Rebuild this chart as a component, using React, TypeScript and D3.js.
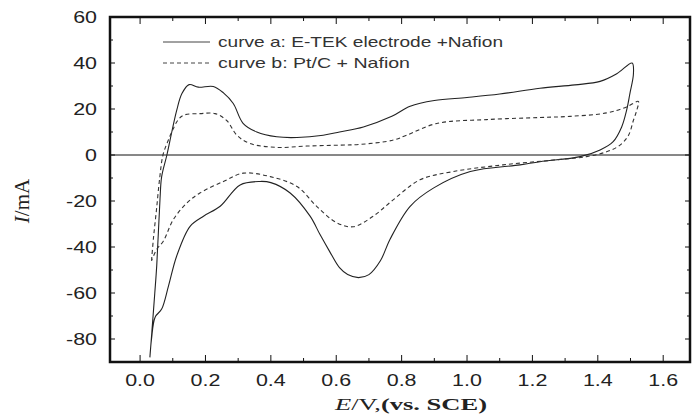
import React from 'react';
import * as d3 from 'd3';

// curve a: E-TEK electrode + Nafion (solid), one closed CV loop
const aPotential = [
  0.030, 0.036, 0.045, 0.051, 0.061, 0.066, 0.082, 0.097, 0.112, 0.128, 0.150,
  0.178, 0.224, 0.255, 0.285, 0.315, 0.357, 0.418, 0.480, 0.560, 0.610, 0.683,
  0.770, 0.826, 0.900, 1.000, 1.100, 1.223, 1.330, 1.407, 1.458, 1.505, 1.509,
  1.498, 1.488, 1.473, 1.447, 1.407, 1.346, 1.223, 1.162, 1.010, 0.897, 0.826,
  0.765, 0.735, 0.700, 0.668, 0.635, 0.610, 0.580, 0.550, 0.520, 0.459, 0.400,
  0.367, 0.306, 0.245, 0.194, 0.153, 0.112, 0.087, 0.066, 0.046, 0.035, 0.030,
];
const aCurrent = [
  -88, -77, -60, -48, -19, -9.4, 0, 10, 19.4, 26.7, 30.6, 29.5, 29.8, 27, 22.4,
  13.8, 10, 7.9, 7.6, 8.6, 10, 12.2, 16.8, 21.2, 23.7, 25, 26.5, 29, 30.5, 32,
  35.3, 40, 35.3, 26.6, 19.4, 12.2, 5.8, 2.2, -0.7, -2.9, -4.3, -7.2, -14.4,
  -22.3, -36.5, -46, -52, -53.3, -52, -49, -42, -34.5, -26.6, -16.5, -12, -11.5,
  -13, -22.3, -26.6, -31, -43.9, -56.9, -67, -70.5, -80, -88,
];

// curve b: Pt/C + Nafion (dashed)
const bPotential = [
  0.035, 0.041, 0.050, 0.060, 0.070, 0.085, 0.097, 0.115, 0.133, 0.183, 0.229,
  0.265, 0.296, 0.336, 0.418, 0.510, 0.612, 0.673, 0.775, 0.815, 0.907, 1.060,
  1.223, 1.315, 1.427, 1.488, 1.524, 1.519, 1.509, 1.494, 1.468, 1.427, 1.366,
  1.264, 1.110, 0.958, 0.856, 0.775, 0.713, 0.652, 0.602, 0.540, 0.480, 0.398,
  0.316, 0.255, 0.183, 0.143, 0.102, 0.071, 0.051, 0.035,
];
const bCurrent = [
  -46, -36, -24, -10, 0, 6, 10, 15, 17.3, 18, 18, 15, 8.6, 5, 3.3, 3.9, 4.3, 4.6,
  6.5, 8.6, 13.7, 15.4, 16.3, 16.8, 18.3, 20.9, 23.3, 19.4, 15.1, 8.6, 4.3, 1.4,
  -0.7, -2.2, -4.3, -7.2, -10.8, -19.4, -26.6, -31.2, -29.5, -22.3, -13.7, -9.4,
  -7.9, -11.5, -16.5, -20.9, -28, -37.5, -41, -46,
];

const xTicks = [0, 0.2, 0.4, 0.6, 0.8, 1.0, 1.2, 1.4, 1.6];
const yTicks = [-80, -60, -40, -20, 0, 20, 40, 60];
const legendLabels = ['curve a: E-TEK electrode +Nafion', 'curve b: Pt/C + Nafion'];

function App() {
  const width = 694;
  const height = 418;
  const left = 110;
  const right = 690;
  const top = 17;
  const bottom = 362;

  const x = d3.scaleLinear().domain([-0.092, 1.682]).range([left, right]);
  const y = d3.scaleLinear().domain([-90, 60]).range([bottom, top]);

  const line = d3
    .line<[number, number]>()
    .x((d) => x(d[0]))
    .y((d) => y(d[1]))
    .curve(d3.curveCatmullRom.alpha(0.5));

  const curveA = line(aPotential.map((v, i) => [v, aCurrent[i]]));
  const curveB = line(bPotential.map((v, i) => [v, bCurrent[i]]));

  const xMinor = d3.range(0, 1.7, 0.1).filter((v) => Math.round(v * 10) % 2 === 1);
  const yMinor = d3.range(-90, 60, 10).filter((v) => v % 20 !== 0);

  const ink = '#111';
  const sx = 1.3;

  return (
    <svg
      width={width}
      height={height}
      style={{ position: 'absolute', left: 0, top: 0, background: '#fff' }}
    >
      <g clipPath="url(#plot)">
        <clipPath id="plot">
          <rect x={left} y={top} width={right - left} height={bottom - top} />
        </clipPath>
        <path d={`M ${left} ${y(0)} H ${right}`} stroke={ink} strokeWidth={1} />
        <path d={curveA ?? ''} fill="none" stroke="#222" strokeWidth={1.1} />
        <path
          d={curveB ?? ''}
          fill="none"
          stroke="#333"
          strokeWidth={1.1}
          strokeDasharray="4 3"
        />
      </g>

      {/* ticks, inward on all four sides */}
      <g stroke={ink} strokeWidth={1}>
        {xTicks.map((t) => (
          <g key={`xt${t}`}>
            <line x1={x(t)} x2={x(t)} y1={bottom} y2={bottom - 7} />
            <line x1={x(t)} x2={x(t)} y1={top} y2={top + 7} />
          </g>
        ))}
        {xMinor.map((t) => (
          <g key={`xm${t}`}>
            <line x1={x(t)} x2={x(t)} y1={bottom} y2={bottom - 4} />
            <line x1={x(t)} x2={x(t)} y1={top} y2={top + 4} />
          </g>
        ))}
        {yTicks.map((t) => (
          <g key={`yt${t}`}>
            <line x1={left} x2={left + 5} y1={y(t)} y2={y(t)} />
            <line x1={right} x2={right - 5} y1={y(t)} y2={y(t)} />
          </g>
        ))}
        {yMinor.map((t) => (
          <g key={`ym${t}`}>
            <line x1={left} x2={left + 3} y1={y(t)} y2={y(t)} />
            <line x1={right} x2={right - 3} y1={y(t)} y2={y(t)} />
          </g>
        ))}
      </g>

      <rect
        x={left}
        y={top}
        width={right - left}
        height={bottom - top}
        fill="none"
        stroke={ink}
        strokeWidth={2.5}
      />

      <g fontFamily="'Liberation Sans', Arial, sans-serif" fontSize={16.5} fill="#222">
        {xTicks.map((t) => (
          <text
            key={`xl${t}`}
            transform={`translate(${x(t)} 386) scale(${sx} 1)`}
            textAnchor="middle"
          >
            {t.toFixed(1)}
          </text>
        ))}
        {yTicks.map((t) => (
          <text
            key={`yl${t}`}
            transform={`translate(97 ${y(t) + 6}) scale(${sx} 1)`}
            textAnchor="end"
          >
            {t}
          </text>
        ))}
      </g>

      {/* legend */}
      <g fontFamily="'Liberation Sans', Arial, sans-serif" fontSize={15} fill="#333">
        <line x1={163} x2={210} y1={42} y2={42} stroke="#444" strokeWidth={1} />
        <text x={218} y={47} textLength={285} lengthAdjust="spacingAndGlyphs">
          {legendLabels[0]}
        </text>
        <line
          x1={163}
          x2={210}
          y1={63}
          y2={63}
          stroke="#444"
          strokeWidth={1}
          strokeDasharray="4 3"
        />
        <text x={218} y={68} textLength={192} lengthAdjust="spacingAndGlyphs">
          {legendLabels[1]}
        </text>
      </g>

      {/* axis titles */}
      <text
        x={411}
        y={410}
        textAnchor="middle"
        fontFamily="'Liberation Serif', 'Times New Roman', serif"
        fontSize={17}
        fill="#222"
        textLength={152}
        lengthAdjust="spacingAndGlyphs"
      >
        <tspan fontStyle="italic">E</tspan>
        <tspan>/V,</tspan>
        <tspan fontWeight="bold">(vs. SCE)</tspan>
      </text>
      <text
        transform="translate(29 201) rotate(-90)"
        textAnchor="middle"
        fontFamily="'Liberation Serif', 'Times New Roman', serif"
        fontSize={21}
        fill="#222"
      >
        <tspan fontStyle="italic">I</tspan>
        <tspan>/mA</tspan>
      </text>
    </svg>
  );
}

export default App;
